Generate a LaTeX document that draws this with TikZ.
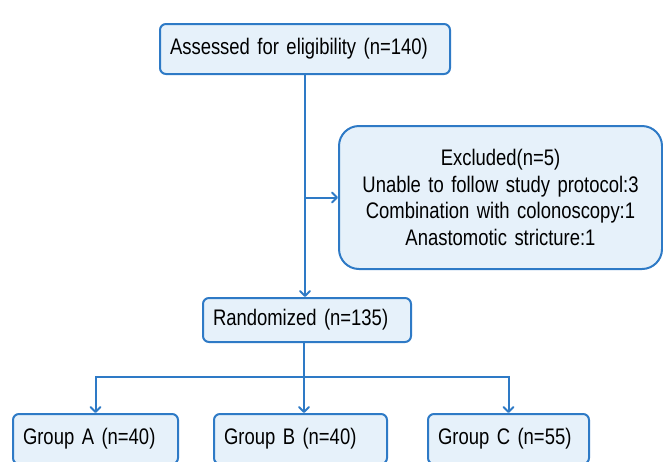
\documentclass[tikz,border=0pt]{standalone}
\usepackage{fontspec}
\setmainfont{Liberation Sans}[FakeStretch=0.82]
\usetikzlibrary{arrows.meta}
\definecolor{flowblue}{RGB}{46,122,198}
\definecolor{flowfill}{RGB}{230,241,250}

\begin{document}
\begin{tikzpicture}[yscale = -1, line width = 2pt,
	box/.style = {draw = flowblue, fill = flowfill, rounded corners = 6pt, anchor = north west,
		inner xsep = 10pt, inner ysep = 0pt, align = left, font = \fontsize{22.5pt}{26.7pt}\selectfont},
	link/.style = {draw = flowblue, -{Straight Barb[length = 5pt, width = 10pt, line width = 2pt, round]}}]
	\useasboundingbox (0, 0) rectangle (663pt, 461pt);
	\clip (0, 0) rectangle (663pt, 461pt);

	% Kaesten
	\node [box, text width = 270pt, minimum height = 50pt] (assessed) at (159pt, 23pt) {Assessed for eligibility (n=140)};
	\node [box, text width = 303pt, minimum height = 143pt, align = center, rounded corners = 20pt] (excluded) at (338pt, 125pt)
		{Excluded(n=5)\\ Unable to follow study protocol:3\\Combination with colonoscopy:1\\Anastomotic stricture:1};
	\node [box, text width = 188pt, minimum height = 44pt] (randomized) at (202pt, 297pt) {Randomized (n=135)};

	% Gruppen
	\node [box, text width = 145pt, minimum height = 50pt] (groupA) at (12pt, 413pt) {Group A (n=40)};
	\node [box, text width = 153pt, minimum height = 50pt] (groupB) at (213pt, 413pt) {Group B (n=40)};
	\node [box, text width = 141pt, minimum height = 50pt] (groupC) at (427pt, 413pt) {Group C (n=55)};

	% Verbindungen
	\coordinate (branch) at (assessed.south |- excluded.west);
	\coordinate (split) at (304pt, 377pt);
	\draw [link] (assessed.south) -- (assessed.south |- randomized.north);
	\draw [link] (branch) -- (excluded.west);
	\draw [flowblue] (split |- randomized.south) -- (split);
	\draw [link] (split) -| (groupA.north);
	\draw [link] (split) -- (split |- groupB.north);
	\draw [link] (split) -| (groupC.north);
\end{tikzpicture}
\end{document}
